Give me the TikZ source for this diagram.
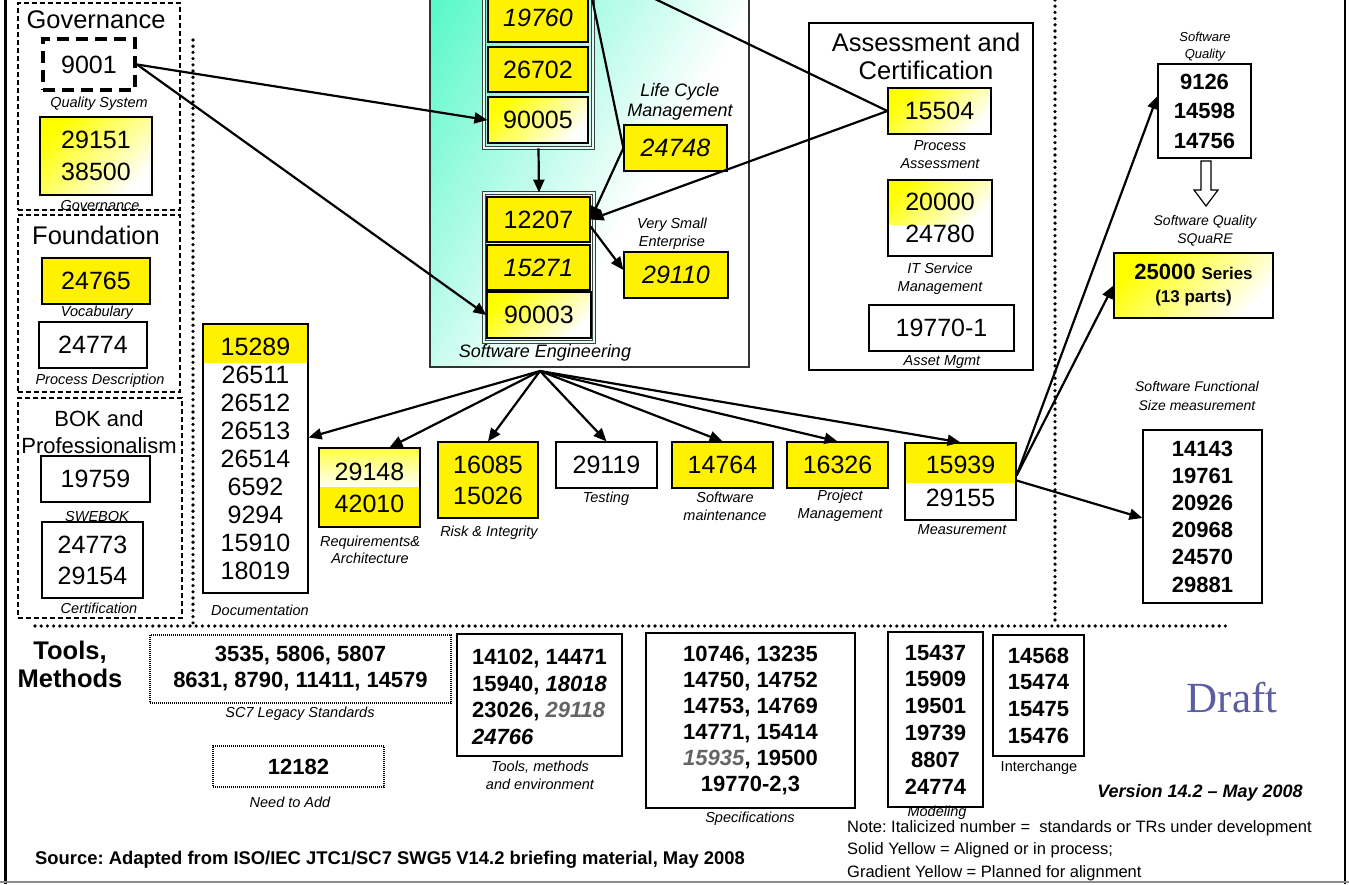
\documentclass[tikz,border=0pt]{standalone}
\usepackage{fontspec}
\setmainfont{Liberation Sans}
\newfontfamily\draftfont{Liberation Serif}
\usetikzlibrary{arrows.meta,calc}
\definecolor{aqua}{RGB}{85,248,200}
\definecolor{draftblue}{RGB}{90,94,160}
\definecolor{midgray}{RGB}{100,100,100}
\frenchspacing
\begin{document}
\begin{tikzpicture}[x=1pt,y=-1pt,
  sz/.style 2 args={minimum width=#1, minimum height=#2},
  box/.style={draw, line width=1.2pt, rectangle, inner sep=0pt, align=center, font=\fontsize{25}{31}\selectfont},
  it/.style={font=\fontsize{25}{31}\selectfont\itshape},
  ybox/.style={box, fill=yellow},
  gbox/.style={box, top color=yellow, bottom color=white, shading angle=45},
  bbox/.style={draw, line width=1.2pt, rectangle, inner sep=0pt, align=center, font=\fontsize{22}{27}\selectfont\bfseries},
  lab/.style={font=\fontsize{14.5}{18}\selectfont\itshape, align=center, inner sep=0pt},
  ttl/.style={font=\fontsize{25.5}{28}\selectfont, align=center, inner sep=0pt},
  grp/.style={draw, line width=1.3pt, dash pattern=on 5pt off 3pt, inner sep=0pt},
  frametwo/.style={draw=black!75, line width=0.9pt, double=white!80!aqua, double distance=1.6pt, inner sep=0pt},
  ln/.style={line width=2.2pt},
  arr/.style={line width=2.2pt, -{Triangle[length=13pt,width=11pt]}},
  dots/.style={line width=3.6pt, dash pattern=on 0pt off 6.2pt, line cap=round},
  fine/.style={draw, line width=1.5pt, dash pattern=on 1pt off 1pt, inner sep=0pt, align=center, font=\fontsize{22}{26}\selectfont\bfseries},
]
\useasboundingbox (0,0) rectangle (1349,884);

% frame
\draw[line width=3pt] (5,0) -- (5,884);
\draw[line width=2pt] (1345,0) -- (1345,884);
\draw[line width=2pt, black!45] (0,882) -- (1349,882);

% dotted separators
\draw[dots] (193,40) -- (193,626);
\draw[dots] (35,626) -- (1228,626);
\draw[dots] (1055,0) -- (1055,626);

% ---------------- Governance column
\node[grp, sz={162}{207}] (govgrp) at (99,106.5) {};
\node[ttl] (govttl) at (96,20) {Governance};
\node[draw, line width=4pt, dash pattern=on 12pt off 7pt, sz={92}{51}, inner sep=0pt, font=\fontsize{25}{31}\selectfont] (n9001) at (89,64.5) {9001};
\node[lab] (qslab) at (99,104) {Quality System};
\node[gbox, sz={112}{78}, font=\fontsize{25}{32}\selectfont] (n29151) at (96,156) {29151\\38500};
\node[lab] (govlab) at (100,206) {Governance};

\node[grp, sz={162}{177}] (fndgrp) at (99,303.5) {};
\node[ttl] (fndttl) at (96,235) {Foundation};
\node[ybox, sz={108}{46}] (n24765) at (96,281) {24765};
\node[lab] (voclab) at (97,313) {Vocabulary};
\node[box, sz={108}{46}] (n24774) at (93,345) {24774};
\node[lab] (pdlab) at (100,381) {Process Description};

\node[grp, sz={164}{220}] (bokgrp) at (100,508) {};
\node[ttl, font=\fontsize{22}{27}\selectfont] (bokttl) at (99,432) {BOK and\\Professionalism};
\node[box, sz={109}{46}] (n19759) at (95.5,479) {19759};
\node[lab] (swelab) at (97,516) {SWEBOK};
\node[box, sz={101}{76}, font=\fontsize{25}{31}\selectfont] (n24773) at (92.5,560) {24773\\29154};
\node[lab] (certlab) at (99,608) {Certification};

% ---------------- Software Engineering background (diagonal gradient)
\begin{scope}
\clip (430,-60) rectangle (749,367);
\foreach \i in {-4,...,34} {
  \pgfmathsetmacro{\ca}{\i*10-1}
  \pgfmathsetmacro{\cb}{\i*10+10}
  \pgfmathsetmacro{\pc}{max(0,min(100,100-(\i*10+5)/3.3))}
  \fill[aqua!\pc!white] (430+\ca+36,-60) -- (430+\cb+36,-60) -- (430+\cb-220.2,367) -- (430+\ca-220.2,367) -- cycle;
}
\end{scope}
\node[draw=black!80, line width=1.5pt, sz={319}{427}] (se) at (589.5,153.5) {};
\node[frametwo, sz={109}{160}] (gone) at (538.5,68) {};
\node[frametwo, sz={110}{149}] (gtwo) at (539,267.5) {};
\node[ybox, sz={100}{48}, it] (n19760) at (538,18) {19760};
\node[ybox, sz={100}{45}] (n26702) at (538,69.5) {26702};
\node[gbox, sz={100}{46}] (n90005) at (538,120) {90005};
\node[ybox, sz={103}{45}] (n12207) at (538.5,219.5) {12207};
\node[ybox, sz={103}{45}, it] (n15271) at (538.5,267.5) {15271};
\node[gbox, sz={104}{46}] (n90003) at (539,315) {90003};
\node[lab, font=\fontsize{18}{20}\selectfont\itshape] (selab) at (545,353) {Software Engineering};
\node[lab, font=\fontsize{18}{20}\selectfont\itshape] (lcmlab) at (680,102) {Life Cycle\\Management};
\node[ybox, sz={103}{46}, it] (n24748) at (675.5,148) {24748};
\node[lab, font=\fontsize{14.5}{18}\selectfont\itshape] (vselab) at (672,234) {Very Small\\Enterprise};
\node[ybox, sz={104}{46}, it] (n29110) at (676,275) {29110};

% ---------------- Assessment and Certification
\node[draw, line width=1.5pt, sz={224}{347}] (acgrp) at (921,196.5) {};
\node[ttl] (acttl) at (926,56) {Assessment and\\Certification};
\node[gbox, sz={103}{46}] (n15504) at (939.5,111) {15504};
\node[lab] (palab) at (940,155) {Process\\Assessment};
\shade[top color=yellow, bottom color=white, shading angle=45] (888,179) rectangle (992,224);
\node[box, sz={104}{76}, font=\fontsize{25}{32}\selectfont] (n20000) at (940,218) {20000\\24780};
\node[lab] (itlab) at (940,279) {IT Service\\Management};
\node[box, sz={145}{46}] (n19770) at (941.5,328) {19770-1};
\node[lab] (amlab) at (942,362) {Asset Mgmt};

% ---------------- right column
\node[lab, font=\fontsize{13}{17}\selectfont\itshape] (sqlab) at (1205,47) {Software\\Quality};
\node[bbox, sz={93}{94}, font=\fontsize{22}{29.5}\selectfont\bfseries] (sq) at (1204.5,111) {9126\\14598\\14756};
\draw[line width=1.2pt, fill=white] (1201,161) -- (1211,161) -- (1211,190) -- (1218,190) -- (1206,206) -- (1194,190) -- (1201,190) -- cycle;
\node[lab, font=\fontsize{14}{18}\selectfont\itshape] (squarelab) at (1205,231) {Software Quality\\SQuaRE};
\node[bbox, sz={159}{65}, font=\fontsize{22}{23}\selectfont\bfseries, top color=yellow, bottom color=white, shading angle=45] (sqr) at (1193.5,285.5) {25000 {\fontsize{17}{20}\selectfont Series}\\{\fontsize{17}{20}\selectfont (13 parts)}};
\node[lab, font=\fontsize{14}{19}\selectfont\itshape] (fsmlab) at (1197,396) {Software Functional\\Size measurement};
\node[bbox, sz={119}{173}, font=\fontsize{22}{27.2}\selectfont\bfseries] (fsm) at (1202.5,516.5) {14143\\19761\\20926\\20968\\24570\\29881};

% ---------------- row of process areas
\fill[yellow] (203,324) rectangle (308,363);
\node[box, sz={105}{269}, font=\fontsize{25}{28}\selectfont] (doc) at (255.5,458.5) {15289\\26511\\26512\\26513\\26514\\6592\\9294\\15910\\18019};
\node[lab] (doclab) at (260,610) {Documentation};

\shade[top color=yellow!75, bottom color=white] (319,448) rectangle (420,487);
\fill[yellow] (319,487) rectangle (420,527);
\node[box, sz={101}{79}, font=\fontsize{25}{32}\selectfont] (req) at (369.5,487.5) {29148\\42010};
\node[lab, font=\fontsize{14.5}{17}\selectfont\itshape] (reqlab) at (370,550) {Requirements\&\\Architecture};

\node[ybox, sz={100}{76}, font=\fontsize{25}{31}\selectfont] (risk) at (488,480) {16085\\15026};
\node[lab] (risklab) at (489,533) {Risk \& Integrity};

\node[box, sz={101}{46}] (test) at (606.5,465) {29119};
\node[lab] (testlab) at (606,499) {Testing};

\node[ybox, sz={101}{46}] (maint) at (722.5,465) {14764};
\node[lab] (maintlab) at (725,506) {Software\\maintenance};

\node[ybox, sz={101}{46}] (pm) at (837.5,465) {16326};
\node[lab] (pmlab) at (840,506) {Project\\Management};

\fill[yellow] (905,443) rectangle (1016,483);
\node[box, sz={111}{77}, font=\fontsize{25}{33}\selectfont] (meas) at (960.5,481.5) {15939\\29155};
\node[lab] (measlab) at (962,530) {Measurement};

% ---------------- connectors (upper part)
\coordinate (topA) at (592,-2);
\coordinate (topB) at (653,-2);
\draw[arr] (n9001.east) -- (n90005.west);
\draw[arr] (n9001.east) -- (n90003.west);
\draw[arr] (gone.south) -- (gtwo.north);
\draw[ln] (topA) -- (n24748.west);
\draw[arr] (n24748.west) -- (n12207.east);
\draw[ln] (topB) -- (n15504.west);
\draw[arr] (n15504.west) -- (n12207.east);
\draw[arr] ([yshift=-7pt]n12207.east) -- ([yshift=5pt]n29110.west);

% ---------------- connectors from Software Engineering
\coordinate (apex) at (540,371);
\draw[arr] (apex) -- ([yshift=21pt]doc.east);
\draw[arr] (apex) -- ([xshift=20pt]req.north);
\draw[arr] (apex) -- (risk.north);
\draw[arr] (apex) -- (test.north);
\draw[arr] (apex) -- (maint.north);
\draw[arr] (apex) -- (pm.north);
\draw[arr] (apex) -- (meas.north);

% ---------------- connectors from Measurement
\coordinate (mo) at ([yshift=6pt]meas.east);
\draw[arr] (mo) -- ([yshift=15pt]sq.west);
\draw[arr] (mo) -- (sqr.west);
\draw[arr] ([yshift=1pt]meas.east) -- ([yshift=-1.5pt]fsm.west);

% ---------------- Tools, Methods
\node[font=\fontsize{25.5}{28}\selectfont\bfseries, align=center, inner sep=0pt] (tmttl) at (70,664) {Tools,\\Methods};
\node[fine, sz={301}{68}] (sc7) at (300.5,669) {3535, 5806, 5807\\8631, 8790, 11411, 14579};
\node[lab] (sc7lab) at (300,714) {SC7 Legacy Standards};
\node[fine, sz={171}{41}] (n12182) at (298.5,766.5) {12182};
\node[lab] (needlab) at (290,802) {Need to Add};

\node[draw, line width=1.2pt, sz={165}{122}, inner sep=0pt] (tools) at (539.5,695) {};
\node[anchor=west, align=left, inner sep=0pt, font=\fontsize{22}{26.7}\selectfont\bfseries] (toolstxt) at (472,697) {14102, 14471\\15940, \textit{18018}\\23026, \textcolor{midgray}{\textit{29118}}\\\textit{24766}};
\node[lab] (toolslab) at (540,775) {Tools, methods\\and environment};

\node[bbox, sz={209}{175}, font=\fontsize{22}{26}\selectfont\bfseries] (spec) at (750.5,720.5) {10746, 13235\\14750, 14752\\14753, 14769\\14771, 15414\\\textcolor{midgray}{\textit{15935}}, 19500\\19770-2,3};
\node[lab] (speclab) at (750,819) {Specifications};

\node[bbox, sz={95}{175}, font=\fontsize{22}{26.8}\selectfont\bfseries] (model) at (935.5,719.5) {15437\\15909\\19501\\19739\\8807\\24774};
\node[lab] (modellab) at (937,813) {Modeling};

\node[bbox, sz={91}{121}, font=\fontsize{22}{26.7}\selectfont\bfseries] (inter) at (1038.5,695.5) {14568\\15474\\15475\\15476};
\node[lab, font=\fontsize{14.5}{18}\selectfont] (interlab) at (1039,768) {Interchange};

\node[text=draftblue, inner sep=0pt, font=\fontsize{43}{45}\selectfont\draftfont] (draft) at (1232,698) {Draft};
\node[inner sep=0pt, font=\fontsize{18}{20}\selectfont\bfseries\itshape] (ver) at (1200,793) {Version 14.2 \textendash{} May 2008};
\node[anchor=west, align=left, inner sep=0pt, font=\fontsize{16.5}{22.5}\selectfont] (note) at (847,850.5) {Note: Italicized number = \ standards or TRs under development\\Solid Yellow = Aligned or in process;\\Gradient Yellow = Planned for alignment};
\node[anchor=west, inner sep=0pt, font=\fontsize{18.4}{20}\selectfont\bfseries] (src) at (35,860) {Source: Adapted from ISO/IEC JTC1/SC7 SWG5 V14.2 briefing material, May 2008};
\end{tikzpicture}
\end{document}
